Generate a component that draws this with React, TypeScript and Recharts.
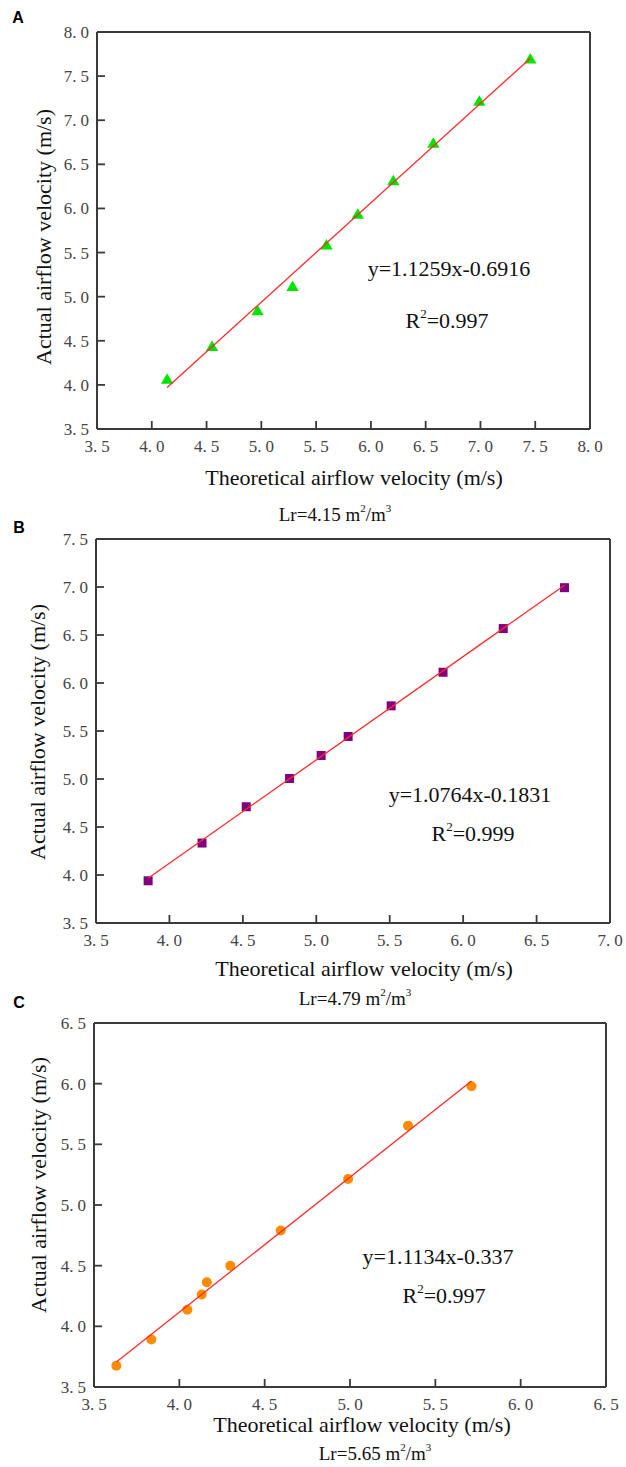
import React from 'react';
import { ScatterChart, Scatter, XAxis, YAxis, ReferenceLine, Label } from 'recharts';

// A: Lr = 4.15 m2/m3
const theoryA = [4.14, 4.55, 4.965, 5.285, 5.595, 5.88, 6.205, 6.57, 6.99, 7.455];
const actualA = [4.07, 4.44, 4.845, 5.12, 5.59, 5.94, 6.32, 6.745, 7.22, 7.7];
const ticksA = [3.5, 4.0, 4.5, 5.0, 5.5, 6.0, 6.5, 7.0, 7.5, 8.0];
const fitA = [1.1259, -0.6916];

// B: Lr = 4.79 m2/m3
const theoryB = [3.855, 4.222, 4.523, 4.818, 5.033, 5.217, 5.51, 5.863, 6.273, 6.69];
const actualB = [3.94, 4.333, 4.711, 5.005, 5.245, 5.443, 5.762, 6.112, 6.567, 6.993];
const ticksBx = [3.5, 4.0, 4.5, 5.0, 5.5, 6.0, 6.5, 7.0];
const ticksBy = [3.5, 4.0, 4.5, 5.0, 5.5, 6.0, 6.5, 7.0, 7.5];
const fitB = [1.0764, -0.1831];

// C: Lr = 5.65 m2/m3
const theoryC = [3.631, 3.836, 4.047, 4.131, 4.161, 4.299, 4.594, 4.989, 5.34, 5.712];
const actualC = [3.675, 3.892, 4.137, 4.263, 4.364, 4.499, 4.79, 5.215, 5.654, 5.978];
const ticksC = [3.5, 4.0, 4.5, 5.0, 5.5, 6.0, 6.5];
const fitC = [1.1134, -0.337];

const W = 626;
const serif = '"Liberation Serif", "Times New Roman", serif';
const axisColor = '#3a3a3a';
const X_GAP = 11; // label gap below the x axis
const Y_GAP = 8; // label gap left of the y axis
const TICK = 8; // inward tick length

const toPoints = (xs: number[], ys: number[]) => xs.map((x, i) => ({ x, y: ys[i] }));
const fitLine = (xs: number[], [k, b]: number[]) => {
  const lo = Math.min(...xs);
  const hi = Math.max(...xs);
  return [{ x: lo, y: k * lo + b }, { x: hi, y: k * hi + b }];
};

const tickParts = (v: number) => {
  const [a, b] = v.toFixed(1).split('.');
  return [a + '.', b];
};

// tick label plus an inward tick mark
const XTick = (p: any) => {
  const [a, b] = tickParts(p.payload.value);
  const axisY = p.y - X_GAP;
  return (
    <g>
      <line x1={p.x} x2={p.x} y1={axisY} y2={axisY - TICK} stroke={axisColor} strokeWidth={1.8} />
      <text x={p.x} y={p.y} dy="0.71em" textAnchor="middle" fill="#444" fontFamily={serif} fontSize={17}>
        <tspan>{a}</tspan>
        <tspan dx={4}>{b}</tspan>
      </text>
    </g>
  );
};

const YTick = (p: any) => {
  const [a, b] = tickParts(p.payload.value);
  const axisX = p.x + Y_GAP;
  return (
    <g>
      <line x1={axisX} x2={axisX + TICK} y1={p.y} y2={p.y} stroke={axisColor} strokeWidth={1.8} />
      <text x={p.x} y={p.y} dy="0.35em" textAnchor="end" fill="#444" fontFamily={serif} fontSize={17}>
        <tspan>{a}</tspan>
        <tspan dx={4}>{b}</tspan>
      </text>
    </g>
  );
};

const markers: Record<string, (p: any) => React.ReactElement> = {
  triangle: (p) => (
    <polygon
      points={`${p.cx},${p.cy - 5.5} ${p.cx - 6.2},${p.cy + 5} ${p.cx + 6.2},${p.cy + 5}`}
      fill="#00e400"
    />
  ),
  square: (p) => <rect x={p.cx - 4.5} y={p.cy - 4.5} width={9} height={9} fill="#800080" />,
  circle: (p) => <circle cx={p.cx} cy={p.cy} r={5} fill="#ff8c00" />,
};

type Pt = [number, number];
type Cfg = {
  top: number;
  height: number;
  box: { l: number; t: number; r: number; b: number };
  xs: number[];
  ys: number[];
  xTicks: number[];
  yTicks: number[];
  fit: number[];
  marker: string;
  letter: string;
  letterPos: Pt;
  xTitle: Pt;
  yTitle: Pt;
  eq: string;
  eqPos: Pt;
  r2: string;
  r2Pos: Pt;
  lr: string;
  lrPos: Pt;
};

const panels: Cfg[] = [
  {
    top: 0, height: 530, box: { l: 97, t: 32, r: 590, b: 429 },
    xs: theoryA, ys: actualA, xTicks: ticksA, yTicks: ticksA, fit: fitA, marker: 'triangle',
    letter: 'A', letterPos: [18, 17], xTitle: [354, 477], yTitle: [43, 237],
    eq: 'y=1.1259x-0.6916', eqPos: [449, 268], r2: '0.997', r2Pos: [447, 320],
    lr: '4.15', lrPos: [335, 514],
  },
  {
    top: 505, height: 505, box: { l: 96, t: 539, r: 610, b: 923 },
    xs: theoryB, ys: actualB, xTicks: ticksBx, yTicks: ticksBy, fit: fitB, marker: 'square',
    letter: 'B', letterPos: [19, 527], xTitle: [364, 968], yTitle: [37, 732],
    eq: 'y=1.0764x-0.1831', eqPos: [470, 794], r2: '0.999', r2Pos: [473, 833],
    lr: '4.79', lrPos: [355, 998],
  },
  {
    top: 985, height: 482, box: { l: 94, t: 1023, r: 606, b: 1387 },
    xs: theoryC, ys: actualC, xTicks: ticksC, yTicks: ticksC, fit: fitC, marker: 'circle',
    letter: 'C', letterPos: [19, 1002], xTitle: [362, 1424], yTitle: [38, 1185],
    eq: 'y=1.1134x-0.337', eqPos: [438, 1256], r2: '0.997', r2Pos: [444, 1295],
    lr: '5.65', lrPos: [375, 1453],
  },
];

function Panel({ c }: { c: Cfg }) {
  const off = c.top;
  const xMin = c.xTicks[0];
  const xMax = c.xTicks[c.xTicks.length - 1];
  const yMin = c.yTicks[0];
  const yMax = c.yTicks[c.yTicks.length - 1];
  const text = { fontFamily: serif, fill: '#111' };

  return (
    <div style={{ position: 'absolute', left: 0, top: off, width: W, height: c.height }}>
      <ScatterChart
        width={W}
        height={c.height}
        margin={{ top: c.box.t - off, right: W - c.box.r, left: 0, bottom: 0 }}
      >
        <XAxis
          type="number"
          dataKey="x"
          domain={[xMin, xMax]}
          ticks={c.xTicks}
          allowDataOverflow
          height={c.height - (c.box.b - off)}
          axisLine={{ stroke: axisColor, strokeWidth: 2 }}
          tickLine={false}
          tickSize={0}
          tickMargin={X_GAP}
          tick={XTick}
          interval={0}
        >
          <Label
            content={() => (
              <text x={c.xTitle[0]} y={c.xTitle[1] - off} textAnchor="middle" dominantBaseline="central" fontSize={22} {...text}>
                Theoretical airflow velocity (m/s)
              </text>
            )}
          />
        </XAxis>
        <YAxis
          type="number"
          dataKey="y"
          domain={[yMin, yMax]}
          ticks={c.yTicks}
          allowDataOverflow
          width={c.box.l}
          axisLine={{ stroke: axisColor, strokeWidth: 2 }}
          tickLine={false}
          tickSize={0}
          tickMargin={Y_GAP}
          tick={YTick}
          interval={0}
        >
          <Label
            content={() => (
              <text
                x={c.yTitle[0]}
                y={c.yTitle[1] - off}
                transform={`rotate(-90 ${c.yTitle[0]} ${c.yTitle[1] - off})`}
                textAnchor="middle"
                dominantBaseline="central"
                fontSize={22}
                {...text}
              >
                Actual airflow velocity (m/s)
              </text>
            )}
          />
        </YAxis>
        <ReferenceLine x={xMax} stroke={axisColor} strokeWidth={2} />
        <ReferenceLine y={yMax} stroke={axisColor} strokeWidth={2} />
        <Scatter
          data={toPoints(c.xs, c.ys)}
          shape={markers[c.marker]}
          isAnimationActive={false}
        />
        <Scatter
          data={fitLine(c.xs, c.fit)}
          line={{ stroke: '#ff2a2a', strokeWidth: 1.3 }}
          shape={() => <g />}
          isAnimationActive={false}
        />
      </ScatterChart>
      <svg
        width={W}
        height={c.height}
        style={{ position: 'absolute', left: 0, top: 0, pointerEvents: 'none' }}
      >
        <text
          x={c.letterPos[0]}
          y={c.letterPos[1] - off}
          textAnchor="middle"
          dominantBaseline="central"
          fontFamily='"Liberation Sans", Arial, sans-serif'
          fontWeight="bold"
          fontSize={16}
          fill="#000"
        >
          {c.letter}
        </text>
        <text x={c.eqPos[0]} y={c.eqPos[1] - off} textAnchor="middle" dominantBaseline="central" fontSize={22} {...text}>
          {c.eq}
        </text>
        <text x={c.r2Pos[0]} y={c.r2Pos[1] - off} textAnchor="middle" dominantBaseline="central" fontSize={22} {...text}>
          R<tspan dy={-7} fontSize={13}>2</tspan>
          <tspan dy={7}>={c.r2}</tspan>
        </text>
        <text x={c.lrPos[0]} y={c.lrPos[1] - off} textAnchor="middle" dominantBaseline="central" fontSize={19} {...text}>
          Lr={c.lr} m<tspan dy={-6} fontSize={11}>2</tspan>
          <tspan dy={6}>/m</tspan>
          <tspan dy={-6} fontSize={11}>3</tspan>
        </text>
      </svg>
    </div>
  );
}

export default function App() {
  return (
    <div style={{ position: 'absolute', left: 0, top: 0, width: W, height: 1467, background: '#fff' }}>
      {panels.map((c) => (
        <Panel key={c.letter} c={c} />
      ))}
    </div>
  );
}
